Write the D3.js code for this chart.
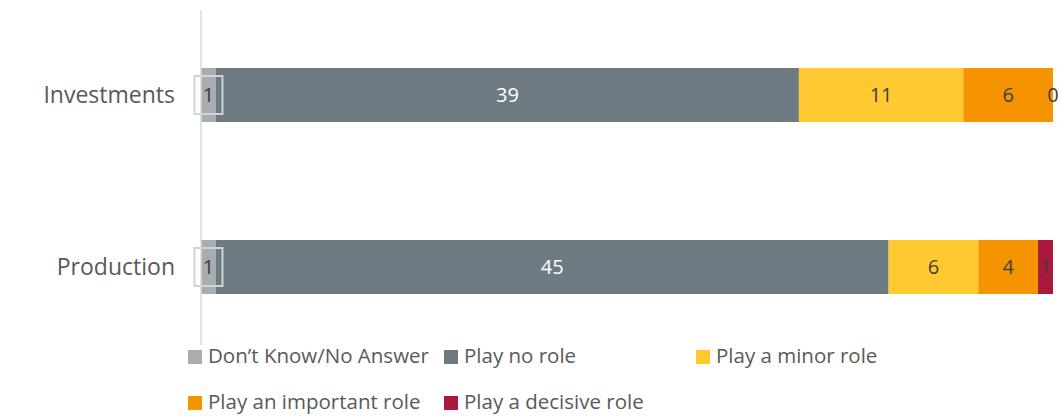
<!DOCTYPE html>
<html><head><meta charset="utf-8">
<script src="https://cdn.jsdelivr.net/npm/d3@7"></script>
<style>body{margin:0;background:#fff}svg{display:block}</style>
</head><body>
<svg id="c" width="1059" height="416"></svg>
<script>
const categories = ["Investments", "Production"];
const seriesNames = ["Don’t Know/No Answer", "Play no role", "Play a minor role", "Play an important role", "Play a decisive role"];
const seriesColors = ["#a7adb1", "#6d7a82", "#ffc92f", "#f59300", "#a8193b"];
const dontKnow = [1, 1];
const noRole = [39, 45];
const minorRole = [11, 6];
const importantRole = [6, 4];
const decisiveRole = [0, 1];
const series = [dontKnow, noRole, minorRole, importantRole, decisiveRole];

const svg = d3.select("#c");
const font = "'Open Sans', sans-serif";
const x = d3.scaleLinear().domain([0, 57]).range([201, 1053]);
const y = d3.scaleBand().domain(categories).range([9, 353]).paddingInner(0.686).paddingOuter(0.343);

const stackData = categories.map((c, i) => {
  const o = {cat: c};
  seriesNames.forEach((s, j) => o[s] = series[j][i]);
  return o;
});
const stacked = d3.stack().keys(seriesNames)(stackData);

stacked.forEach((layer, j) => {
  svg.append("g").selectAll("rect").data(layer).join("rect")
    .attr("x", d => x(d[0])).attr("width", d => x(d[1]) - x(d[0]))
    .attr("y", d => y(d.data.cat)).attr("height", y.bandwidth())
    .attr("fill", seriesColors[j]);
});

// axis line
svg.append("line").attr("x1", 201).attr("x2", 201).attr("y1", 10).attr("y2", 345)
  .attr("stroke", "#d9d9d9").attr("stroke-width", 1.5);

// data labels
stacked.forEach((layer, j) => {
  layer.forEach(d => {
    const v = d[1] - d[0];
    const cx = j === 4 && v === 0 ? x(d[1]) : (x(d[0]) + x(d[1])) / 2;
    const cy = y(d.data.cat) + y.bandwidth() / 2;
    if (j === 0) {
      svg.append("rect").attr("x", cx - 14).attr("y", cy - 19).attr("width", 28).attr("height", 38)
        .attr("fill", "none").attr("stroke", "#d0d4d6").attr("stroke-width", 2);
    }
    svg.append("text").attr("x", cx).attr("y", cy).attr("dy", "0.36em")
      .attr("text-anchor", "middle").attr("font-family", font).attr("font-size", 20)
      .attr("fill", j === 1 ? "#ffffff" : "#404040").text(v);
  });
});

// category labels
svg.append("g").selectAll("text").data(categories).join("text")
  .attr("x", 175).attr("y", d => y(d) + y.bandwidth() / 2).attr("dy", "0.36em")
  .attr("text-anchor", "end").attr("font-family", font).attr("font-size", 23)
  .attr("fill", "#595959").text(d => d);

// legend
const legPos = [[188, 357], [444, 357], [696, 357], [188, 403], [444, 403]];
seriesNames.forEach((s, i) => {
  const [lx, ly] = legPos[i];
  svg.append("rect").attr("x", lx).attr("y", ly - 7).attr("width", 14).attr("height", 14).attr("fill", seriesColors[i]);
  svg.append("text").attr("x", lx + 20).attr("y", ly).attr("dy", "0.3em")
    .attr("font-family", font).attr("font-size", 20.5).attr("fill", "#595959").text(s);
});
</script>
</body></html>
